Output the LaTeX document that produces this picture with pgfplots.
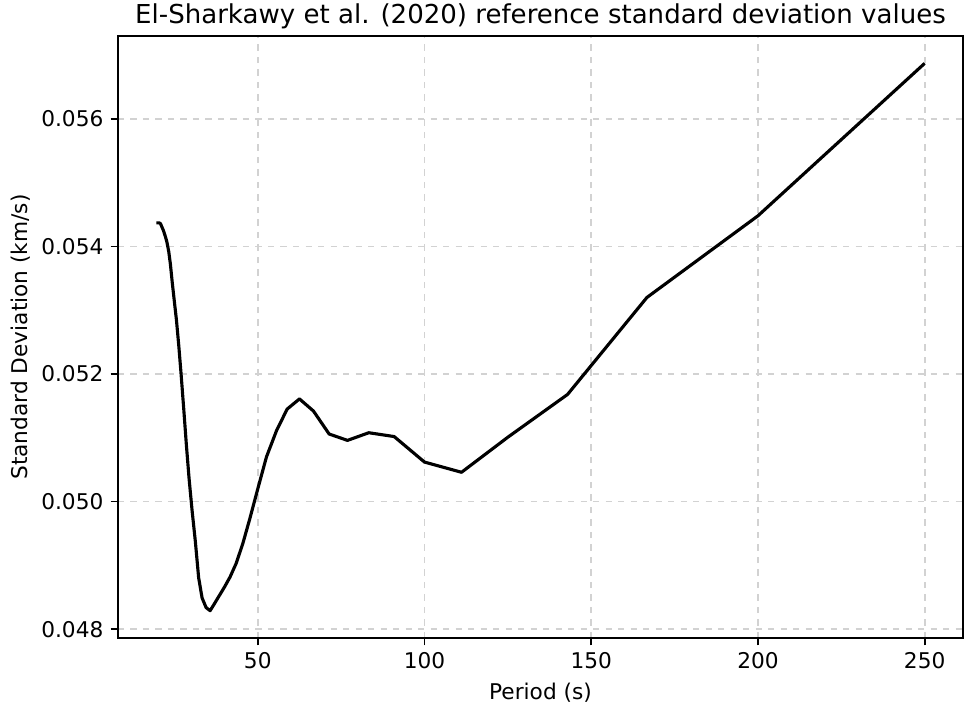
\documentclass[border=0pt]{standalone}
\usepackage{fontspec}
\setmainfont{DejaVu Sans}
\usepackage{pgfplots}
\pgfplotsset{compat=1.18}
\usetikzlibrary{calc}
\begin{document}
\begin{tikzpicture}
\begin{axis}[
  scale only axis,
  width=405.6pt, height=289pt,
  xmin=8.08, xmax=261.5,
  ymin=0.047861, ymax=0.057299,
  xtick={50,100,150,200,250},
  ytick={0.048,0.050,0.052,0.054,0.056},
  scaled y ticks=false,
  yticklabel style={/pgf/number format/.cd, fixed, fixed zerofill, precision=3},
  /pgf/number format/assume math mode=true,
  tick label style={font=\fontsize{10.4}{12.5}\selectfont},
  label style={font=\fontsize{10.4}{12.5}\selectfont},
  title style={font=\fontsize{12.5}{15}\selectfont, yshift=-6pt},
  title={El-Sharkawy et al. (2020) reference standard deviation values},
  xlabel={Period (s)},
  ylabel={Standard Deviation (km/s)},
  ylabel shift=-1.5pt,
  grid=major,
  major grid style={gray!35, dashed, line width=0.8pt},
  axis line style={line width=0.8pt},
  tick style={black, line width=0.8pt},
  tick align=outside,
  major tick length=3.5pt,
  xtick pos=bottom, ytick pos=left,
]
\addplot[black, line width=1.5pt, line join=round] coordinates {
(19.6,0.05437) (20.0,0.05437) (20.4,0.05437) (20.8,0.05436) (21.3,0.05430)
(21.7,0.05425) (22.2,0.05417) (22.7,0.05408) (23.3,0.05392) (23.8,0.05372)
(24.4,0.05341) (25.0,0.05313) (25.6,0.05285) (26.3,0.05245) (27.0,0.05200)
(27.8,0.05145) (28.6,0.05088) (29.4,0.05036) (30.3,0.04986) (31.25,0.04939)
(32.26,0.04881) (33.3,0.04849) (34.5,0.04834) (35.7,0.04829) (37.0,0.04840)
(38.5,0.04853) (40.0,0.04866) (41.7,0.04882) (43.5,0.04903) (45.5,0.04934)
(47.6,0.04973) (50.0,0.05020) (52.6,0.05070) (55.6,0.05111) (58.8,0.05145)
(62.5,0.05161) (66.7,0.05142) (71.4,0.05106) (76.9,0.05096) (83.3,0.05108)
(90.9,0.05102) (100.0,0.05062) (111.1,0.05046) (125.0,0.05101) (142.9,0.05168)
(166.7,0.05320) (200.0,0.05448) (250.0,0.05687)
};
\end{axis}
\pgfresetboundingbox
\path ($(current axis.south west)+(-56.64pt,-33.6pt)$) rectangle ($(current axis.north east)+(0.48pt,17.28pt)$);
\end{tikzpicture}
\end{document}
